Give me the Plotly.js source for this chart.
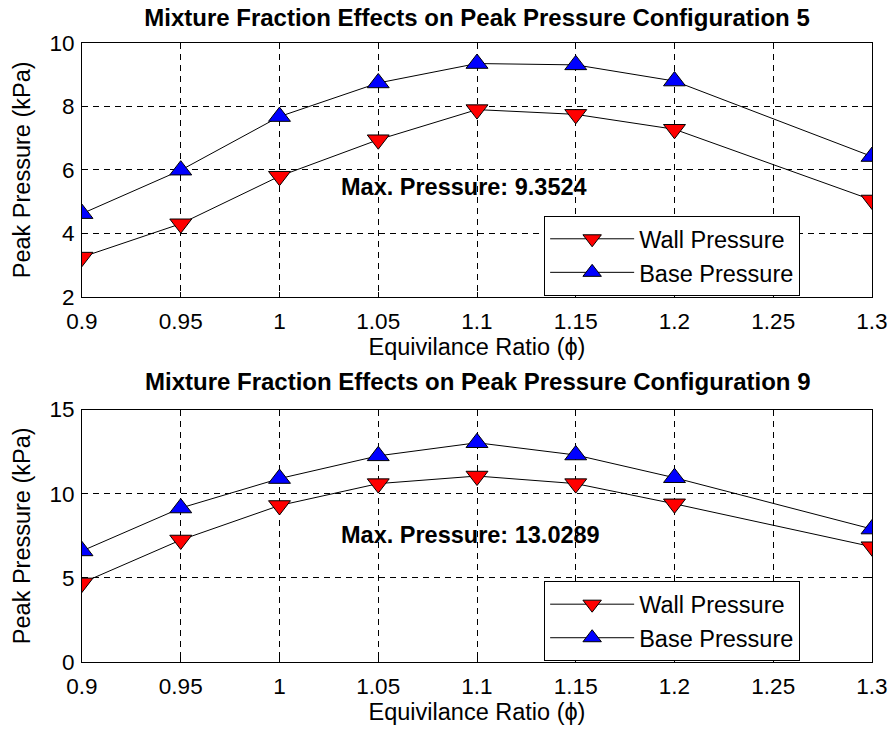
<!DOCTYPE html>
<html>
<head>
<meta charset="utf-8">
<script src="https://cdn.plot.ly/plotly-3.0.1.min.js"></script>
<style>
  html, body { margin: 0; padding: 0; background: #ffffff; }
  #chart { width: 891px; height: 731px; }
</style>
</head>
<body>
<div id="chart"></div>
<script>
// Equivalence ratio sweep
const phi = [0.9, 0.95, 1.0, 1.05, 1.1, 1.15, 1.2, 1.3];

// Configuration 5 peak pressures (kPa)
const wall5 = [3.25, 4.30, 5.80, 6.95, 7.90, 7.75, 7.28, 5.05];
const base5 = [4.62, 5.99, 7.68, 8.74, 9.3524, 9.31, 8.80, 6.42];

// Configuration 9 peak pressures (kPa)
const wall9 = [4.70, 7.25, 9.30, 10.60, 11.05, 10.60, 9.40, 6.85];
const base9 = [6.60, 9.15, 10.90, 12.25, 13.0289, 12.30, 10.95, 7.90];

// Axis ticks
const xTicks = [0.9, 0.95, 1.0, 1.05, 1.1, 1.15, 1.2, 1.25, 1.3];
const xTickText = ['0.9', '0.95', '1', '1.05', '1.1', '1.15', '1.2', '1.25', '1.3'];
const y5Ticks = [2, 4, 6, 8, 10];
const y9Ticks = [0, 5, 10, 15];

const titles = [
  'Mixture Fraction Effects on Peak Pressure Configuration 5',
  'Mixture Fraction Effects on Peak Pressure Configuration 9'
];
const seriesNames = ['Wall Pressure', 'Base Pressure'];

const FONT = 'Liberation Sans, Arial, Helvetica, sans-serif';

function series(y, name, symbol, color, xa, ya, legend) {
  return {
    x: phi, y: y, name: name, type: 'scatter', mode: 'lines+markers',
    xaxis: xa, yaxis: ya, legend: legend, legendgroup: legend + name,
    line: { color: '#000000', width: 1 },
    marker: { symbol: symbol, size: 19, color: color, line: { color: '#000000', width: 1 } }
  };
}

const traces = [
  series(wall5, seriesNames[0], 'triangle-down', '#ff0000', 'x', 'y', 'legend'),
  series(base5, seriesNames[1], 'triangle-up', '#0000ff', 'x', 'y', 'legend'),
  series(wall9, seriesNames[0], 'triangle-down', '#ff0000', 'x2', 'y2', 'legend2'),
  series(base9, seriesNames[1], 'triangle-up', '#0000ff', 'x2', 'y2', 'legend2')
];

function xAxis(anchor) {
  return {
    anchor: anchor, domain: [0, 1], range: [0.9, 1.3],
    tickmode: 'array', tickvals: xTicks, ticktext: xTickText,
    showline: true, linecolor: '#000000', linewidth: 1, mirror: 'ticks',
    ticks: 'inside', ticklen: 5, tickcolor: '#000000',
    showgrid: true, gridcolor: '#000000', gridwidth: 1, griddash: '6px,5px',
    zeroline: false,
    tickfont: { family: FONT, size: 22.5, color: '#000000' },
    ticklabelstandoff: 4,
    title: { text: 'Equivilance Ratio (ϕ)', font: { family: FONT, size: 23.5, color: '#000000' }, standoff: 4 },
    automargin: false
  };
}

function yAxis(anchor, domain, range, ticks) {
  return {
    anchor: anchor, domain: domain, range: range,
    tickmode: 'array', tickvals: ticks,
    showline: true, linecolor: '#000000', linewidth: 1, mirror: 'ticks',
    ticks: 'inside', ticklen: 5, tickcolor: '#000000',
    showgrid: true, gridcolor: '#000000', gridwidth: 1, griddash: '6px,5px',
    zeroline: false,
    tickfont: { family: FONT, size: 22.5, color: '#000000' },
    ticklabelstandoff: 2,
    title: { text: 'Peak Pressure (kPa)', font: { family: FONT, size: 23.5, color: '#000000' }, standoff: 12 },
    automargin: false
  };
}

function legendBox(y) {
  return {
    x: 0.585, xanchor: 'left', y: y, yanchor: 'top',
    bgcolor: '#ffffff', bordercolor: '#000000', borderwidth: 1,
    font: { family: FONT, size: 23.5, color: '#000000' },
    itemwidth: 84, tracegroupgap: 0, traceorder: 'grouped'
  };
}

const layout = {
  width: 891, height: 731,
  paper_bgcolor: '#ffffff', plot_bgcolor: '#ffffff',
  margin: { l: 82, r: 19, t: 43, b: 69 },
  showlegend: true,
  title: {
    text: titles[0], x: 0.5, xref: 'paper', y: 1 - 17.5 / 731, yref: 'container', yanchor: 'middle',
    font: { family: FONT, size: 24, color: '#000000', weight: 'bold' }
  },
  xaxis: xAxis('y'),
  yaxis: yAxis('x', [0.5901, 1], [2, 10], y5Ticks),
  xaxis2: xAxis('y2'),
  yaxis2: yAxis('x2', [0, 0.4078], [0, 15], y9Ticks),
  legend: legendBox(0.7205),
  legend2: legendBox(0.1302),
  annotations: [
    {
      text: titles[1], xref: 'paper', yref: 'paper', x: 0.5, y: (662 - 381.5) / 619,
      xanchor: 'center', yanchor: 'middle', showarrow: false,
      font: { family: FONT, size: 24, color: '#000000', weight: 'bold' }
    },
    {
      text: 'Max. Pressure: ' + Math.max(...base5), xref: 'x', yref: 'y', x: 1.03, y: 5.45,
      xanchor: 'left', yanchor: 'middle', showarrow: false,
      font: { family: FONT, size: 23.5, color: '#000000', weight: 'bold' }
    },
    {
      text: 'Max. Pressure: ' + Math.max(...base9), xref: 'x2', yref: 'y2', x: 1.03, y: 7.57,
      xanchor: 'left', yanchor: 'middle', showarrow: false,
      font: { family: FONT, size: 23.5, color: '#000000', weight: 'bold' }
    }
  ]
};

Plotly.newPlot('chart', traces, layout, { displayModeBar: false, staticPlot: true });
</script>
</body>
</html>
